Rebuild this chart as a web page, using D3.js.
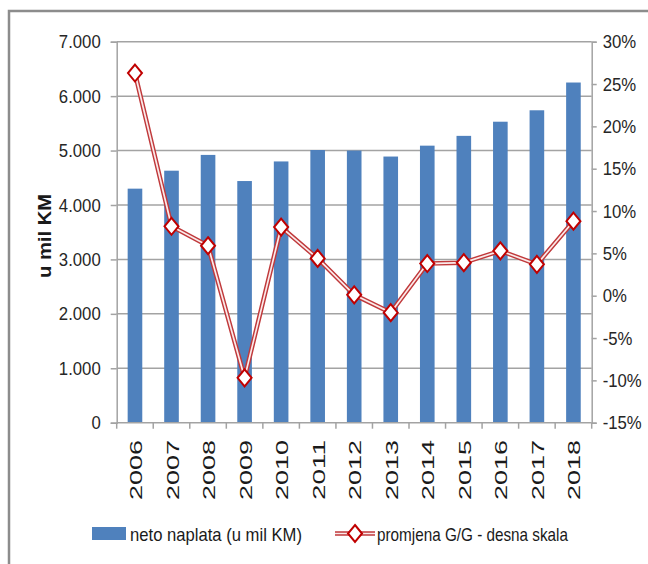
<!DOCTYPE html>
<html>
<head>
<meta charset="utf-8">
<script src="https://cdn.jsdelivr.net/npm/d3@7"></script>
<style>
  html, body { margin: 0; padding: 0; background: #ffffff; }
  svg { display: block; }
</style>
</head>
<body>
<svg id="chart" width="648" height="564"></svg>
<script>
// ---- data ----
const years = ["2006","2007","2008","2009","2010","2011","2012","2013","2014","2015","2016","2017","2018"];
const netoNaplata = [4300, 4630, 4920, 4440, 4800, 5010, 5000, 4890, 5090, 5270, 5530, 5740, 6250];
const promjenaGG = [26.3, 8.2, 5.9, -9.7, 8.1, 4.4, 0.1, -2.0, 3.8, 3.9, 5.3, 3.7, 8.8];
const leftTicks = [0, 1000, 2000, 3000, 4000, 5000, 6000, 7000];
const rightTicks = [-15, -10, -5, 0, 5, 10, 15, 20, 25, 30];
const seriesNames = ["neto naplata (u mil KM)", "promjena G/G - desna skala"];
const yTitle = "u mil KM";

// ---- layout ----
const svg = d3.select("#chart");
const L = 116.7, R = 591.7, T = 41.7, B = 422.7;
const gridColor = "#a3a3a3";
const barColor = "#4f81bd";
const lineRed = "#c0393b";
const markRed = "#c00000";
const tickFont = "'Liberation Sans', Arial, sans-serif";

// frame
svg.append("rect")
  .attr("x", 9).attr("y", 11).attr("width", 700).attr("height", 700)
  .attr("fill", "none").attr("stroke", "#8c8c8c").attr("stroke-width", 2.5);

const x = d3.scaleBand().domain(years).range([L, R]).paddingInner(0.6).paddingOuter(0.3);
const yL = d3.scaleLinear().domain([0, 7000]).range([B, T]);
const yR = d3.scaleLinear().domain([-15, 30]).range([B, T]);

// condense text horizontally (narrow look)
function condense(sel, f) {
  sel.each(function () {
    const w = this.getComputedTextLength();
    d3.select(this).attr("textLength", w * f).attr("lengthAdjust", "spacingAndGlyphs");
  });
}

// gridlines
svg.append("g").selectAll("line").data(leftTicks.filter(d => d > 0)).join("line")
  .attr("x1", L).attr("x2", R)
  .attr("y1", d => yL(d)).attr("y2", d => yL(d))
  .attr("stroke", gridColor).attr("stroke-width", 1.5);

// left axis
const fmtL = d => d3.format(",")(d).replace(/,/g, ".");
const gL = svg.append("g").attr("transform", `translate(${L},0)`)
  .call(d3.axisLeft(yL).tickValues(leftTicks).tickFormat(fmtL).tickSize(6).tickPadding(10));
gL.select(".domain").attr("stroke", gridColor).attr("stroke-width", 1.5);
gL.selectAll(".tick line").attr("stroke", gridColor).attr("stroke-width", 1.5);
gL.selectAll(".tick text").attr("font-family", tickFont).attr("font-size", 19).attr("fill", "#262626")
  .call(condense, 0.88);

// right axis
const fmtR = d => d + "%";
const gR = svg.append("g").attr("transform", `translate(${R},0)`)
  .call(d3.axisRight(yR).tickValues(rightTicks).tickFormat(fmtR).tickSize(5).tickPadding(6));
gR.select(".domain").attr("stroke", gridColor).attr("stroke-width", 1.5);
gR.selectAll(".tick line").attr("stroke", gridColor).attr("stroke-width", 1.5);
gR.selectAll(".tick text").attr("font-family", tickFont).attr("font-size", 19).attr("fill", "#262626")
  .call(condense, 0.88);

// bars
svg.append("g").selectAll("rect").data(years).join("rect")
  .attr("x", (d) => x(d))
  .attr("width", x.bandwidth())
  .attr("y", (d, i) => yL(netoNaplata[i]))
  .attr("height", (d, i) => B - yL(netoNaplata[i]))
  .attr("fill", barColor);

// bottom axis
const boundaries = years.map(d => x(d) - x.step() * x.paddingInner() / 2);
boundaries.push(R);
boundaries[0] = L;
const gB = svg.append("g");
gB.append("line").attr("x1", L).attr("x2", R).attr("y1", B).attr("y2", B)
  .attr("stroke", gridColor).attr("stroke-width", 1.5);
gB.selectAll("line.tk").data(boundaries).join("line").attr("class", "tk")
  .attr("x1", d => d).attr("x2", d => d).attr("y1", B).attr("y2", B + 6)
  .attr("stroke", gridColor).attr("stroke-width", 1.5);
gB.selectAll("text").data(years).join("text")
  .attr("transform", d => `translate(${x(d) + x.bandwidth() / 2 + 1},440) rotate(-90)`)
  .attr("text-anchor", "end")
  .attr("dominant-baseline", "central")
  .attr("font-family", tickFont).attr("font-size", 16.5)
  .attr("textLength", 60).attr("lengthAdjust", "spacingAndGlyphs")
  .attr("fill", "#1a1a1a")
  .text(d => d);

// line series (double line)
const cx = d => x(d) + x.bandwidth() / 2;
const line = d3.line().x((d, i) => cx(years[i])).y(d => yR(d));
svg.append("path").datum(promjenaGG).attr("d", line)
  .attr("fill", "none").attr("stroke", lineRed).attr("stroke-width", 4.6).attr("stroke-linejoin", "round");
svg.append("path").datum(promjenaGG).attr("d", line)
  .attr("fill", "none").attr("stroke", "#fbeaea").attr("stroke-width", 1.7).attr("stroke-linejoin", "round");

const diamond = (w, h) => `M0,${-h}L${w},0L0,${h}L${-w},0Z`;
svg.append("g").selectAll("path").data(promjenaGG).join("path")
  .attr("transform", (d, i) => `translate(${cx(years[i])},${yR(d)})`)
  .attr("d", diamond(7, 8.5))
  .attr("fill", "#ffffff").attr("stroke", markRed).attr("stroke-width", 2);

// y title
svg.append("text")
  .attr("transform", "translate(45,236) rotate(-90)")
  .attr("text-anchor", "middle").attr("dominant-baseline", "central")
  .attr("font-family", tickFont).attr("font-weight", "bold").attr("font-size", 18)
  .attr("textLength", 84).attr("lengthAdjust", "spacingAndGlyphs")
  .attr("fill", "#1a1a1a")
  .text(yTitle);

// legend
const lg = svg.append("g");
lg.append("rect").attr("x", 92).attr("y", 527).attr("width", 34).attr("height", 13).attr("fill", barColor);
lg.append("text").attr("x", 130).attr("y", 534).attr("dominant-baseline", "central")
  .attr("font-family", tickFont).attr("font-size", 18.5)
  .attr("textLength", 172).attr("lengthAdjust", "spacingAndGlyphs")
  .attr("fill", "#1a1a1a").text(seriesNames[0]);
lg.append("line").attr("x1", 335).attr("x2", 375).attr("y1", 533.5).attr("y2", 533.5)
  .attr("stroke", lineRed).attr("stroke-width", 4.6);
lg.append("line").attr("x1", 335).attr("x2", 375).attr("y1", 533.5).attr("y2", 533.5)
  .attr("stroke", "#fbeaea").attr("stroke-width", 1.7);
lg.append("path").attr("transform", "translate(355,533.5)").attr("d", diamond(7, 8.5))
  .attr("fill", "#ffffff").attr("stroke", markRed).attr("stroke-width", 2);
lg.append("text").attr("x", 377).attr("y", 534).attr("dominant-baseline", "central")
  .attr("font-family", tickFont).attr("font-size", 18.5)
  .attr("textLength", 191).attr("lengthAdjust", "spacingAndGlyphs")
  .attr("fill", "#1a1a1a").text(seriesNames[1]);
</script>
</body>
</html>
